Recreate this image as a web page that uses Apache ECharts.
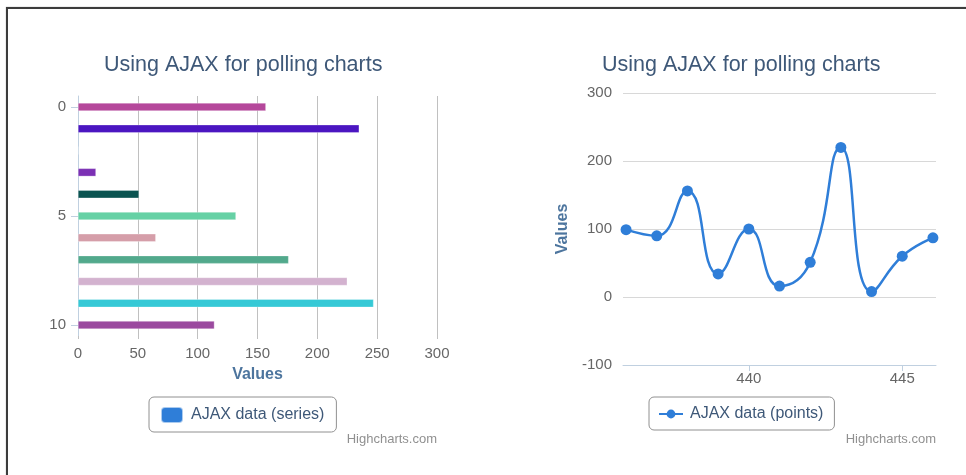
<!DOCTYPE html>
<html>
<head>
<meta charset="utf-8">
<script src="https://cdn.jsdelivr.net/npm/echarts@6/dist/echarts.min.js"></script>
<style>
    html,body{margin:0;padding:0;background:#fff;overflow:hidden;}
    #frame{position:absolute;left:6px;top:7px;width:975px;height:490px;border:2px solid #3c3c3c;box-shadow:0 0 1px #999;}
    #main{position:absolute;left:0;top:0;width:966px;height:475px;}
</style>
</head>
<body>
<div id="frame"></div>
<div id="main"></div>
<script>
// 左边: 条形图数据
var barCategories = ['0','1','2','3','4','5','6','7','8','9','10'];
var barValues = [157, 235, 0, 15, 51, 132, 65, 176, 225, 247, 114];
var barColors = ['#b5489b','#4b15c1','#2f7ed8','#7b30b4','#0b5451','#66d1a5','#d59ea9','#52a98c','#d3b2cf','#36c9d6','#9b4a9f'];
var valueTicks = [0, 50, 100, 150, 200, 250, 300];

// 右边: 折线图数据
var pointX = [436, 437, 438, 439, 440, 441, 442, 443, 444, 445, 446];
var pointY = [99, 90, 156, 34, 100, 16, 51, 220, 8, 60, 87];
var xTicks = [440, 445];
var yTicks = [-100, 0, 100, 200, 300];

var FONT = '"Liberation Sans", Arial, sans-serif';

function chartAjax(id){
    var myChart = echarts.init(document.getElementById(id), null, {renderer:'canvas'});

    var barData = [];
    $each(barValues, function(i, v){
        barData.push({value: v, itemStyle: {color: barColors[i]}});
    });
    var lineData = [];
    $each(pointX, function(i, x){
        lineData.push([x, pointY[i]]);
    });

    var option = {
        animation: false,
        backgroundColor: 'transparent',
        textStyle: {fontFamily: FONT},
        title: [
            {text: 'Using AJAX for polling charts', left: 104, top: 54, padding: 0,
             textStyle: {color: '#3e5878', fontSize: 21.5, fontWeight: 'normal', fontFamily: FONT}},
            {text: 'Using AJAX for polling charts', left: 602, top: 54, padding: 0,
             textStyle: {color: '#3e5878', fontSize: 21.5, fontWeight: 'normal', fontFamily: FONT}}
        ],
        legend: [
            {
                data: [{name: 'AJAX data (series)', icon: 'roundRect'}],
                left: 149, top: 397,
                padding: [9, 12, 8, 11],
                borderColor: '#909090', borderWidth: 1, borderRadius: 5,
                itemWidth: 22, itemHeight: 16,
                textStyle: {color: '#3e5878', fontSize: 16, fontFamily: FONT, padding: [0, 0, 0, 3]}
            },
            {
                data: ['AJAX data (points)'],
                left: 649, top: 397,
                padding: [9, 11, 8, 9],
                borderColor: '#909090', borderWidth: 1, borderRadius: 5,
                itemWidth: 24, itemHeight: 11,
                textStyle: {color: '#3e5878', fontSize: 16, fontFamily: FONT, padding: [0, 0, 0, 2]}
            }
        ],
        grid: [
            {left: 78, right: 966 - 437, top: 96, bottom: 475 - 336},
            {left: 623, right: 966 - 936, top: 93, bottom: 475 - 365}
        ],
        xAxis: [
            {
                gridIndex: 0,
                type: 'value',
                min: valueTicks[0],
                max: valueTicks[valueTicks.length - 1],
                interval: 50,
                name: 'Values',
                nameLocation: 'middle',
                nameGap: 31,
                nameTextStyle: {color: '#4d759e', fontSize: 16, fontWeight: 'bold', fontFamily: FONT},
                axisLine: {show: false},
                axisTick: {show: true, length: 3, lineStyle: {color: '#c0c0c0'}},
                axisLabel: {color: '#666', fontSize: 15, margin: 10, fontFamily: FONT},
                splitLine: {show: true, lineStyle: {color: '#c0c0c0', width: 1}}
            },
            {
                gridIndex: 1,
                type: 'value',
                min: 435.9,
                max: 446.1,
                axisLine: {show: true, onZero: false, lineStyle: {color: '#c0d0e0'}},
                axisTick: {show: true, length: 6, customValues: xTicks, lineStyle: {color: '#c0d0e0'}},
                axisLabel: {
                    show: true,
                    color: '#666', fontSize: 15, margin: 6, fontFamily: FONT,
                    customValues: xTicks
                },
                splitLine: {show: false}
            }
        ],
        yAxis: [
            {
                gridIndex: 0,
                type: 'category',
                data: barCategories,
                inverse: true,
                axisLine: {show: true, onZero: false, lineStyle: {color: '#c0d0e0'}},
                axisTick: {show: true, interval: 4, alignWithLabel: true, length: 7, lineStyle: {color: '#c0d0e0'}},
                axisLabel: {interval: 4, color: '#666', fontSize: 15, margin: 12, fontFamily: FONT},
                splitLine: {show: false}
            },
            {
                gridIndex: 1,
                type: 'value',
                min: yTicks[0],
                max: yTicks[yTicks.length - 1],
                interval: 100,
                name: 'Values',
                nameLocation: 'middle',
                nameGap: 52,
                nameTextStyle: {color: '#4d759e', fontSize: 16, fontWeight: 'bold', fontFamily: FONT},
                axisLine: {show: false},
                axisTick: {show: false},
                axisLabel: {color: '#666', fontSize: 15, margin: 11, fontFamily: FONT},
                splitLine: {show: true, lineStyle: {color: '#d8d8d8', width: 1}}
            }
        ],
        series: [
            {
                name: 'AJAX data (series)',
                type: 'bar',
                xAxisIndex: 0,
                yAxisIndex: 0,
                barWidth: 8,
                itemStyle: {color: '#2f7ed8', borderColor: 'rgba(255,255,255,0.6)', borderWidth: 0.5},
                data: barData
            },
            {
                name: 'AJAX data (points)',
                type: 'line',
                xAxisIndex: 1,
                yAxisIndex: 1,
                smooth: 0.5,
                symbol: 'circle',
                symbolSize: 11,
                showSymbol: true,
                itemStyle: {color: '#2f7ed8'},
                lineStyle: {color: '#2f7ed8', width: 2.5},
                data: lineData
            }
        ],
        graphic: [
            {type: 'text', right: 966 - 437, top: 433,
             style: {text: 'Highcharts.com', fill: '#909090', fontSize: 13, fontFamily: FONT}},
            {type: 'text', right: 966 - 936, top: 433,
             style: {text: 'Highcharts.com', fill: '#909090', fontSize: 13, fontFamily: FONT}}
        ]
    };

    myChart.setOption(option);
    return myChart;
}

function $each(arr, fn){
    for (var i = 0; i < arr.length; i++) { fn(i, arr[i]); }
}

chartAjax('main');
</script>
</body>
</html>
